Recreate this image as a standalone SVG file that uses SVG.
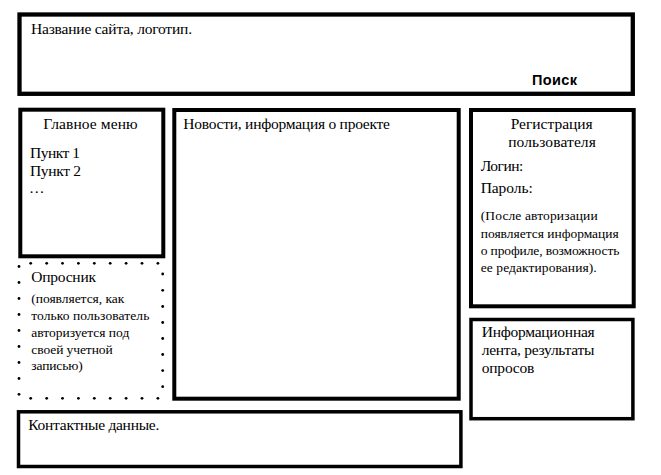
<svg xmlns="http://www.w3.org/2000/svg" width="661" height="475" viewBox="0 0 661 475">
<style>
.box{fill:#fff;stroke:#000;stroke-width:4}
.thin{stroke-width:3.5}
text{font-family:"Times New Roman","Liberation Serif",Tinos,"Noto Serif","DejaVu Serif",FreeSerif,serif;fill:#000}
.t{font-size:15.5px}
.s{font-size:13.5px}
.b{font-family:"Liberation Sans",Arial,sans-serif;font-size:14.5px;font-weight:bold}
.dot{fill:#000}
</style>
<rect width="661" height="475" fill="#fff"/>
<g id="header">
<rect class="box" x="19.5" y="14.5" width="613.3" height="79.3" style="stroke-width:4.3"/>
<text class="t" x="31" y="33.5" textLength="161">Название сайта, логотип.</text>
<text class="b" x="532" y="85" textLength="45">Поиск</text>
</g>
<g id="main-menu">
<rect class="box" x="20.3" y="109.7" width="143" height="146.6"/>
<text class="t" x="90.5" y="129" text-anchor="middle" textLength="94.4">Главное меню</text>
<text class="t" x="30" y="158.3" textLength="50">Пункт 1</text>
<text class="t" x="30" y="176" textLength="51">Пункт 2</text>
<text class="t" x="29" y="193.3">…</text>
</g>
<g id="news">
<rect class="box" x="174.3" y="110" width="284.4" height="288.7"/>
<text class="t" x="183.3" y="128.5" textLength="206.7">Новости, информация о проекте</text>
</g>
<g id="registration">
<rect class="box" x="471" y="110" width="162.7" height="196.3"/>
<text class="t" x="551.7" y="129.3" text-anchor="middle" textLength="82">Регистрация</text>
<text class="t" x="552" y="146.5" text-anchor="middle" textLength="87.7">пользователя</text>
<text class="t" x="480.7" y="170.7" textLength="42.6">Логин:</text>
<text class="t" x="480.7" y="193.3" textLength="52">Пароль:</text>
<text class="s" x="480.7" y="220.3" textLength="117">(После авторизации</text>
<text class="s" x="480.7" y="238.3" textLength="138">появляется информация</text>
<text class="s" x="480.7" y="255" textLength="138.7">о профиле, возможность</text>
<text class="s" x="480.7" y="271.5" textLength="116">ее редактирования).</text>
</g>
<g id="info-feed">
<rect class="box thin" x="471" y="319.5" width="161.9" height="99.2"/>
<text class="t" x="481.7" y="337.3" textLength="113">Информационная</text>
<text class="t" x="481.7" y="355" textLength="112.7">лента, результаты</text>
<text class="t" x="481.7" y="372.7" textLength="52.7">опросов</text>
</g>
<g id="poll">
<g class="dot">
<circle cx="30.7" cy="263.3" r="1.4"/><circle cx="46.7" cy="263.3" r="1.4"/><circle cx="62.5" cy="263.3" r="1.4"/><circle cx="78.4" cy="263.3" r="1.4"/><circle cx="94.3" cy="263.3" r="1.4"/><circle cx="110.2" cy="263.3" r="1.4"/><circle cx="126.1" cy="263.3" r="1.4"/><circle cx="142" cy="263.3" r="1.4"/><circle cx="157.9" cy="263.3" r="1.4"/>
<circle cx="19" cy="266.5" r="1.4"/><circle cx="19" cy="282.5" r="1.4"/><circle cx="19" cy="298.5" r="1.4"/><circle cx="19" cy="314.5" r="1.4"/><circle cx="19" cy="330.5" r="1.4"/><circle cx="19" cy="346.5" r="1.4"/><circle cx="19" cy="362.5" r="1.4"/><circle cx="19" cy="378.5" r="1.4"/><circle cx="19" cy="394.3" r="1.4"/>
<circle cx="162.7" cy="274" r="1.4"/><circle cx="162.7" cy="290.3" r="1.4"/><circle cx="162.7" cy="306.5" r="1.4"/><circle cx="162.7" cy="322.5" r="1.4"/><circle cx="162.7" cy="338.5" r="1.4"/><circle cx="162.7" cy="354.5" r="1.4"/><circle cx="162.7" cy="370.6" r="1.4"/><circle cx="162.7" cy="386.7" r="1.4"/>
<circle cx="30.7" cy="398.3" r="1.4"/><circle cx="46.7" cy="398.3" r="1.4"/><circle cx="62.5" cy="398.3" r="1.4"/><circle cx="78.4" cy="398.3" r="1.4"/><circle cx="94.3" cy="398.3" r="1.4"/><circle cx="110.2" cy="398.3" r="1.4"/><circle cx="126.1" cy="398.3" r="1.4"/><circle cx="142" cy="398.3" r="1.4"/><circle cx="157.9" cy="398.3" r="1.4"/>
</g>
<text class="t" x="31.3" y="282.3" textLength="64.7">Опросник</text>
<text class="s" x="31.3" y="303.3" textLength="93">(появляется, как</text>
<text class="s" x="31.3" y="320.3" textLength="118">только пользователь</text>
<text class="s" x="31.3" y="337" textLength="98">авторизуется под</text>
<text class="s" x="31.3" y="353.5" textLength="81.4">своей учетной</text>
<text class="s" x="31.3" y="369.5" textLength="51.4">записью)</text>
</g>
<g id="contacts">
<rect class="box thin" x="18.5" y="411.8" width="442.4" height="54.7"/>
<text class="t" x="28.3" y="430" textLength="131">Контактные данные.</text>
</g>
</svg>
